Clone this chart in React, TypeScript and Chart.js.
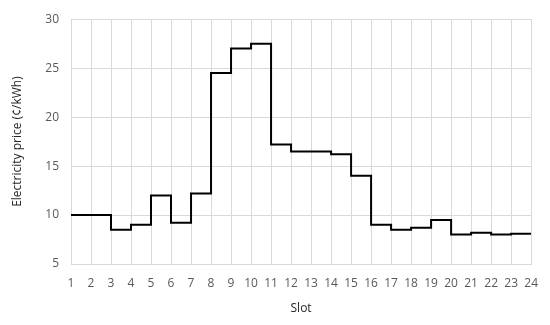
import React, { useEffect, useRef } from "react";
import { Chart, registerables } from "chart.js";

Chart.register(...registerables);

const slots: number[] = [1,2,3,4,5,6,7,8,9,10,11,12,13,14,15,16,17,18,19,20,21,22,23,24];
const prices: number[] = [10,10,8.5,9,12,9.2,12.2,24.5,27,27.5,17.2,16.5,16.5,16.2,14,9,8.5,8.7,9.5,8,8.2,8,8.1,8.1];
const xTitle = "Slot";
const yTitle = "Electricity price (¢/kWh)";

export default function App() {
  const ref = useRef<HTMLCanvasElement>(null);
  useEffect(() => {
    document.body.style.margin = "0";
    const font = { family: "'Open Sans', 'Noto Sans', sans-serif", size: 12 };
    const chart = new Chart(ref.current!, {
      type: "line",
      data: {
        datasets: [
          {
            data: slots.map((s, i) => ({ x: s, y: prices[i] })),
            borderColor: "#000000",
            borderWidth: 2,
            pointRadius: 0,
            stepped: "before",
            fill: false,
          },
        ],
      },
      options: {
        animation: false,
        responsive: false,
        maintainAspectRatio: false,
        layout: { padding: { top: 14, right: 14, left: 0, bottom: 0 } },
        plugins: { legend: { display: false }, tooltip: { enabled: false } },
        scales: {
          x: {
            type: "linear",
            min: 1,
            max: 24,
            afterFit: (s: any) => { s.height = 61; },
            ticks: { stepSize: 1, color: "#595959", font, padding: 12, autoSkip: false, maxRotation: 0 },
            grid: { color: "#d9d9d9", drawTicks: false, lineWidth: 1 },
            border: { color: "#d9d9d9" },
            title: { display: true, text: xTitle, color: "#262626", font, padding: { top: 8, bottom: 9 } },
          },
          y: {
            min: 5,
            max: 30,
            afterFit: (s: any) => { s.width = 71; },
            ticks: { stepSize: 5, color: "#595959", font, padding: 12 },
            grid: { color: "#d9d9d9", drawTicks: false, lineWidth: 1 },
            border: { color: "#d9d9d9" },
            title: { display: true, text: yTitle, color: "#262626", font, padding: { top: 10, bottom: 0 } },
          },
        },
      },
    });
    return () => chart.destroy();
  }, []);
  return <canvas ref={ref} width={550} height={325} style={{ display: "block" }} />;
}
